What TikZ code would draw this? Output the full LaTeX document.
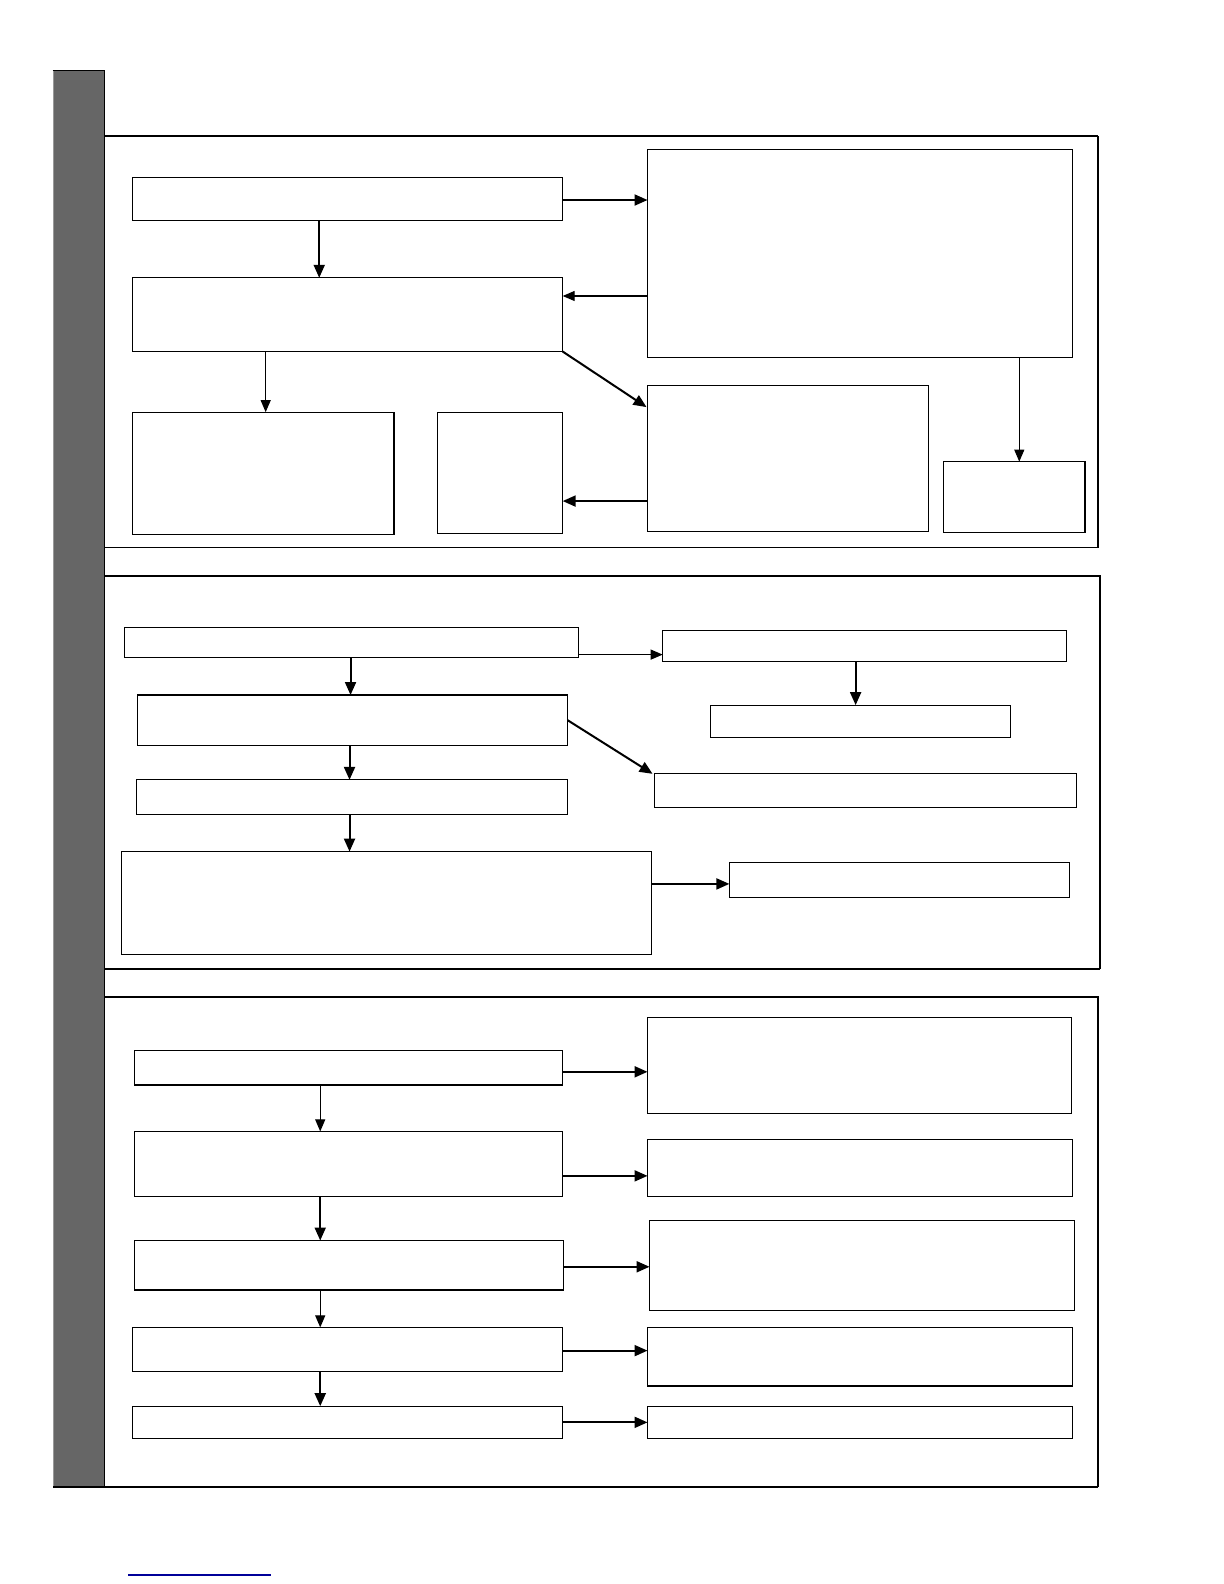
\documentclass[tikz,border=0pt]{standalone}
\usetikzlibrary{arrows.meta,calc}
\tikzset{
  box/.style={draw,line width=1.1bp,inner sep=0pt,outer sep=0pt,anchor=north west,fill=white},
  arr/.style={line width=1.1bp,-{Triangle[length=12bp,width=10bp]}},
  arrthick/.style={line width=2bp,-{Triangle[length=13bp,width=11bp]}},
  frame/.style={line width=1.6bp},
}
\newcommand\mkbox[5]{\node[box,minimum width={(#4-#2)*1.0102bp},minimum height={(#5-#3)*1.0102bp}] (#1) at (#2,#3) {};}
\begin{document}
\begin{tikzpicture}[x=1.0102bp,y=-1.0102bp]
\useasboundingbox (0bp,0bp) rectangle (1224bp,-1584bp);
\fill[white] (0bp,0bp) rectangle (1224bp,-1584bp);
% gray side bar
\fill[black!60] (52,70) rectangle (103,1472);
\draw[black!40,line width=1bp] (53,70) -- (53,1472);
\draw[line width=1bp] (52,70) -- (103,70) -- (103,1472);
% section frames
\draw[frame,line width=2bp] (103,135) -- (1087,135);
\draw[frame] (1087,135) -- (1087,542) -- (103,542);
\draw[frame] (103,570) -- (1089,570) -- (1089,959);
\draw[line width=2.2bp] (1089,959) -- (103,959);
\draw[frame] (103,987) -- (1087,987) -- (1087,1472);
\draw[line width=2.4bp] (1087,1472) -- (52,1472);
% bottom blue line
\draw[blue!60!black,line width=1.2bp] (127,1559) -- (268,1559);

% ---- section 1
\mkbox{A}{131}{176}{557}{218}
\mkbox{B}{131}{275}{557}{348}
\mkbox{C}{641}{148}{1062}{354}
\mkbox{D}{131}{408}{390}{529}
\mkbox{E}{433}{408}{557}{528}
\mkbox{F}{641}{382}{919}{526}
\mkbox{G}{934}{457}{1074}{527}
\draw[arrthick] (A.south -| 316,0) -- (B.north -| 316,0);
\draw[arrthick] (A.east |- 0,198) -- (C.west |- 0,198);
\draw[arr] (C.west |- 0,293) -- (B.east |- 0,293);
\draw[arr] (B.south -| 263,0) -- (D.north -| 263,0);
\draw[arrthick] (B.south east) -- ($(F.north west)+(-1,21)$);
\draw[arrthick] (F.west |- 0,496) -- (E.east |- 0,496);
\draw[arr] (C.south -| 1009,0) -- (G.north -| 1009,0);

% ---- section 2
\mkbox{H}{123}{621}{573}{651}
\mkbox{I}{656}{624}{1056}{655}
\mkbox{J}{136}{688}{562}{738}
\mkbox{K}{703}{698}{1000}{730}
\mkbox{L}{648}{766}{1066}{799}
\mkbox{M}{135}{772}{562}{806}
\mkbox{N}{120}{843}{645}{945}
\mkbox{O}{722}{854}{1059}{888}
\draw[arrthick] (H.south -| 347,0) -- (J.north -| 347,0);
\draw[arr] (H.east |- 0,648) -- (I.west |- 0,648);
\draw[arrthick] (I.south -| 847,0) -- (K.north -| 847,0);
\draw[arrthick] (J.east) -- ($(L.north west)+(-2,0)$);
\draw[arrthick] (J.south -| 346,0) -- (M.north -| 346,0);
\draw[arrthick] (M.south -| 346,0) -- (N.north -| 346,0);
\draw[arrthick] (N.east |- 0,875) -- (O.west |- 0,875);

% ---- section 3
\mkbox{P}{133}{1040}{557}{1074}
\mkbox{Q}{641}{1007}{1061}{1102}
\mkbox{R}{133}{1120}{557}{1184}
\mkbox{S}{641}{1128}{1062}{1184}
\mkbox{T}{133}{1228}{558}{1277}
\mkbox{U}{643}{1208}{1064}{1297}
\mkbox{V}{131}{1314}{557}{1358}
\mkbox{W}{641}{1314}{1062}{1372}
\mkbox{X}{131}{1392}{557}{1424}
\mkbox{Y}{641}{1392}{1062}{1424}
\draw[arr] (P.south -| 317,0) -- (R.north -| 317,0);
\draw[arrthick] (P.east |- 0,1061) -- (Q.west |- 0,1061);
\draw[arrthick] (R.south -| 317,0) -- (T.north -| 317,0);
\draw[arrthick] (R.east |- 0,1164) -- (S.west |- 0,1164);
\draw[arr] (T.south -| 317,0) -- (V.north -| 317,0);
\draw[arrthick] (T.east |- 0,1254) -- (U.west |- 0,1254);
\draw[arrthick] (V.south -| 317,0) -- (X.north -| 317,0);
\draw[arrthick] (V.east |- 0,1337) -- (W.west |- 0,1337);
\draw[arrthick] (X.east |- 0,1408) -- (Y.west |- 0,1408);
\end{tikzpicture}
\end{document}
